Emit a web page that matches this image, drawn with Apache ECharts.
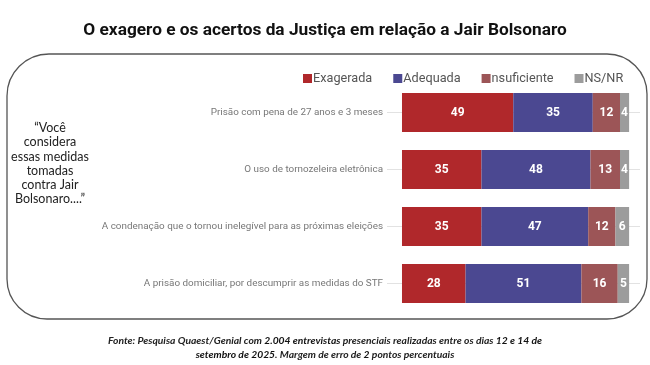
<!DOCTYPE html>
<html><head><meta charset="utf-8">
<script src="https://cdn.jsdelivr.net/npm/echarts@6/dist/echarts.min.js"></script>
<style>html,body{margin:0;padding:0;background:#fff}#c{width:650px;height:365px}</style>
</head><body><div id="c"></div>
<script>
const categories = [
  'Prisão com pena de 27 anos e 3 meses',
  'O uso de tornozeleira eletrônica',
  'A condenação que o tornou inelegível para as próximas eleições',
  'A prisão domiciliar, por descumprir as medidas do STF'
];
const seriesNames = ['Exagerada', 'Adequada', 'nsuficiente', 'NS/NR'];
const exagerada = [49, 35, 35, 28];
const adequada = [35, 48, 47, 51];
const insuficiente = [12, 13, 12, 16];
const nsnr = [4, 4, 6, 5];
const colors = ['#B0282B', '#4B4891', '#9C5557', '#9C9C9C'];

const chart = echarts.init(document.getElementById('c'), null, {renderer: 'canvas'});
const values = [exagerada, adequada, insuficiente, nsnr];
const series = seriesNames.map((n, i) => ({
  name: n, type: 'bar', stack: 'total', barWidth: 39, z: 2,
  itemStyle: {color: colors[i]},
  label: {show: true, position: 'inside', color: '#fff', fontWeight: 'bold', fontSize: 12, fontFamily: 'Roboto'},
  data: values[i]
}));

chart.setOption({
  animation: false,
  title: [{
    text: 'O exagero e os acertos da Justiça em relação a Jair Bolsonaro',
    left: 'center', top: 17,
    textStyle: {fontSize: 17.3, fontWeight: 'bold', color: '#111', fontFamily: '"Liberation Sans Narrow", "Roboto", sans-serif'}
  }, {
    text: '“Você\nconsidera\nessas medidas\ntomadas\ncontra Jair\nBolsonaro....”',
    left: 45, top: 116, textAlign: 'center',
    textStyle: {fontSize: 12.5, fontWeight: 'normal', color: '#222', lineHeight: 14.2, fontFamily: 'Lato', align: 'center'}
  }, {
    text: '{i|Fonte: Pesquisa Quaest/Genial com }{b|2.004 entrevistas}{i| presenciais realizadas entre os dias }{b|12 e 14 de}\n{b|setembro de 2025}{i|. Margem de erro de }{b|2}{i| pontos percentuais}',
    left: 'center', top: 329,
    textStyle: {
      rich: {
        i: {fontSize: 10.3, fontStyle: 'italic', color: '#222', fontFamily: 'Lato', lineHeight: 14},
        b: {fontSize: 10.3, fontStyle: 'italic', fontWeight: 'bold', color: '#111', fontFamily: 'Lato', lineHeight: 14}
      }
    }
  }],
  graphic: [{
    type: 'rect', z: 0,
    shape: {x: 7, y: 54, width: 640, height: 265, r: [42, 40, 40, 40]},
    style: {fill: 'none', stroke: '#555', lineWidth: 1.3}
  }],
  legend: {
    data: seriesNames, left: 298, top: 67,
    icon: 'rect', itemWidth: 9, itemHeight: 9, itemGap: 21,
    textStyle: {color: '#555', fontSize: 12.7, fontFamily: 'Roboto', padding: [0, 0, 0, -4]}
  },
  grid: {left: 387, right: 10, top: 84, bottom: 53, containLabel: false},
  xAxis: {
    type: 'value', min: -6.6, max: 104.8, show: false
  },
  yAxis: {
    type: 'category', inverse: true, data: categories,
    axisLine: {show: false, onZero: false},
    axisTick: {show: true, alignWithLabel: true, inside: true, length: 253, lineStyle: {color: '#e2e2e2', width: 1}},
    axisLabel: {color: '#777', fontSize: 9.9, margin: 4, fontFamily: 'Roboto'},
    splitLine: {show: false}
  },
  series: series
});
</script>
</body></html>
